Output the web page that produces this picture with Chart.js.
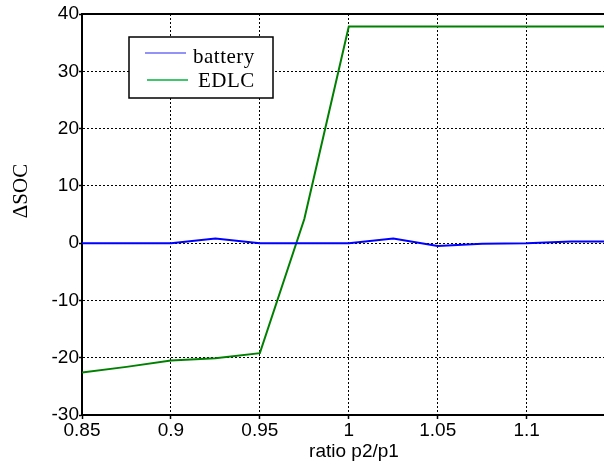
<!DOCTYPE html>
<html>
<head>
<meta charset="utf-8">
<script src="https://cdn.jsdelivr.net/npm/chart.js@4/dist/chart.umd.min.js"></script>
<style>
  html, body { margin: 0; padding: 0; background: #fff; }
  #wrap { width: 604px; height: 465px; }
</style>
</head>
<body>
<div id="wrap"><canvas id="chart"></canvas></div>
<script>
let ratio = [0.85, 0.875, 0.9, 0.925, 0.95, 0.975, 1, 1.025, 1.05, 1.075, 1.1, 1.125, 1.15]
let battery = [0, 0, 0, 0.8, 0, 0, 0, 0.8, -0.5, -0.1, 0, 0.3, 0.3]
let edlc = [-22.6, -21.6, -20.5, -20.1, -19.2, 4.2, 37.8, 37.8, 37.8, 37.8, 37.8, 37.8, 37.8]
let xTicks = [0.85, 0.9, 0.95, 1, 1.05, 1.1]
let yTicks = [-30, -20, -10, 0, 10, 20, 30, 40]
let legendColors = ['#6f6ff5', '#00b43c']

const toPoints = (xs, ys) => xs.map((x, i) => ({ x: x, y: ys[i] }))

// legend box, axis labels and top border, drawn by hand like the matlab figure
const extras = {
    id: 'extras',
    afterDraw: (chart) => {
        const ctx = chart.ctx
        const area = chart.chartArea
        ctx.save()
        ctx.strokeStyle = '#000'
        ctx.lineWidth = 2
        ctx.beginPath()
        ctx.moveTo(area.left, area.top)
        ctx.lineTo(area.right, area.top)
        ctx.stroke()

        // legend
        ctx.fillStyle = '#fff'
        ctx.fillRect(129, 37, 144, 61)
        ctx.lineWidth = 1.5
        ctx.strokeRect(129, 37, 144, 61)
        ctx.font = '21px "Liberation Serif"'
        ctx.letterSpacing = '0.5px'
        ctx.textBaseline = 'alphabetic'
        chart.data.datasets.forEach((ds, i) => {
            let y = 53 + i * 27
            ctx.strokeStyle = legendColors[i]
            ctx.lineWidth = 1.5
            ctx.beginPath()
            ctx.moveTo(145 + i * 2, y)
            ctx.lineTo(186 + i * 2, y)
            ctx.stroke()
            ctx.fillStyle = '#000'
            ctx.fillText(ds.label, 193 + i * 5, y + 10 - i * 3)
        })
        ctx.letterSpacing = '0px'

        // x label
        ctx.textAlign = 'center'
        ctx.textBaseline = 'middle'
        ctx.font = '19px "Liberation Sans"'
        ctx.fillText('ratio p2/p1', 354, 452)

        // y label
        ctx.translate(21, 191)
        ctx.rotate(-Math.PI / 2)
        ctx.font = '21px "Liberation Serif"'
        ctx.fillText('\u0394SOC', 0, 0)
        ctx.restore()
    }
}

new Chart(document.getElementById('chart'), {
    type: 'scatter',
    data: {
        datasets: [{
            label: 'battery',
            data: toPoints(ratio, battery),
            borderColor: '#0000ff',
            borderWidth: 2,
            showLine: true,
            pointRadius: 0
        }, {
            label: 'EDLC',
            data: toPoints(ratio, edlc),
            borderColor: '#008000',
            borderWidth: 2,
            showLine: true,
            pointRadius: 0
        }]
    },
    options: {
        responsive: true,
        maintainAspectRatio: false,
        animation: false,
        layout: { padding: { top: 14, right: 0, left: 0, bottom: 0 } },
        plugins: {
            legend: { display: false },
            tooltip: { enabled: false }
        },
        scales: {
            x: {
                type: 'linear',
                min: 0.85,
                max: 1.1435,
                afterBuildTicks: (scale) => { scale.ticks = xTicks.map(v => ({ value: v })) },
                afterFit: (scale) => { scale.height = 50 },
                ticks: {
                    color: '#000',
                    font: { family: '"Liberation Sans"', size: 19 },
                    padding: 0,
                    maxRotation: 0,
                    autoSkip: false,
                    callback: (v) => String(v)
                },
                grid: {
                    color: '#000',
                    lineWidth: 1,
                    tickLength: 4,
                    tickBorderDash: [],
                    tickWidth: 1.5
                },
                border: { color: '#000', width: 2, dash: [2, 2] }
            },
            y: {
                min: -30,
                max: 40,
                afterBuildTicks: (scale) => { scale.ticks = yTicks.map(v => ({ value: v })) },
                afterFit: (scale) => { scale.width = 82 },
                ticks: {
                    color: '#000',
                    font: { family: '"Liberation Sans"', size: 19 },
                    padding: 0,
                    autoSkip: false
                },
                grid: {
                    color: '#000',
                    lineWidth: 1,
                    tickLength: 3,
                    tickBorderDash: [],
                    tickWidth: 1.5
                },
                border: { color: '#000', width: 2, dash: [2, 2] }
            }
        }
    },
    plugins: [extras]
})
</script>
</body>
</html>
